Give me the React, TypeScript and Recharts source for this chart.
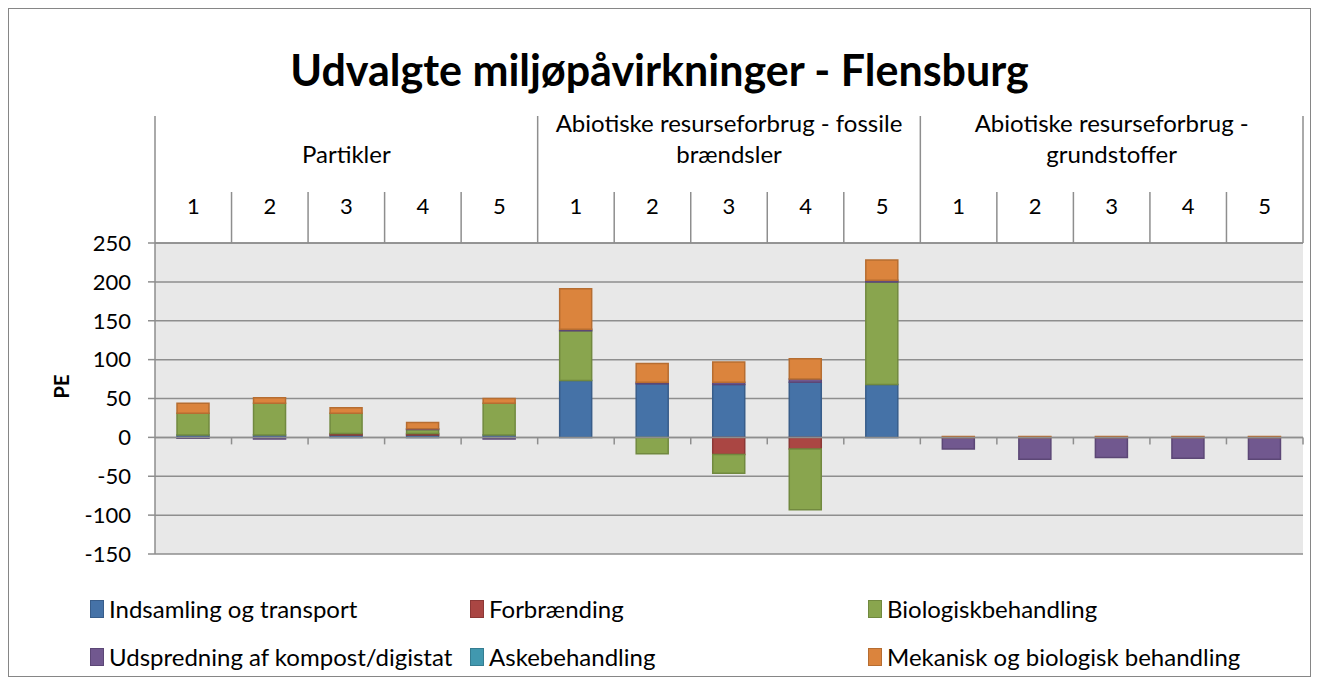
import React from 'react'
import { BarChart, Bar, XAxis, YAxis, CartesianGrid, ReferenceLine, Legend } from 'recharts'

// categories: 3 impact groups x 5 scenarios
const groupLines = [
  ['Partikler'],
  ['Abiotiske resurseforbrug - fossile', 'brændsler'],
  ['Abiotiske resurseforbrug -', 'grundstoffer'],
]
const scenarios = ['1', '2', '3', '4', '5']
const yTicks = [-150, -100, -50, 0, 50, 100, 150, 200, 250]

// PE values per process step (15 bars)
const indsamling = [3, 3, 3, 3, 3, 73, 69, 68, 71, 68, 0, 0, 0, 0, 0]
const forbraending = [0, 0, 2, 2, 0, 0, 0, -22, -15, 0, 0, 0, 0, 0, 0]
const biologisk = [28, 41, 26, 5, 41, 64, -21, -24, -78, 132, 0, 0, 0, 0, 0]
const udspredning = [-1, -2, 0, 1, -2, 2, 2, 3, 4, 2, -15, -28, -26, -27, -28]
const aske = [0, 0, 0, 0, 0, 0, 0, 0, 0, 0, 0, 0, 0, 0, 0]
const mekanisk = [13, 7, 7, 8, 6, 52, 24, 26, 26, 26, 1, 1, 1, 1, 1]

const series = [
  { key: 'ind', name: 'Indsamling og transport', values: indsamling, fill: '#4572A7', stroke: '#385d8a' },
  { key: 'forb', name: 'Forbrænding', values: forbraending, fill: '#AA4643', stroke: '#8c3836' },
  { key: 'bio', name: 'Biologiskbehandling', values: biologisk, fill: '#89A54E', stroke: '#71893f' },
  { key: 'udsp', name: 'Udspredning af kompost/digistat', values: udspredning, fill: '#71588F', stroke: '#5c4776' },
  { key: 'aske', name: 'Askebehandling', values: aske, fill: '#4198AF', stroke: '#357d91' },
  { key: 'mek', name: 'Mekanisk og biologisk behandling', values: mekanisk, fill: '#DB843D', stroke: '#b66d31' },
]

const W = 1303
const H = 669
const margin = { top: 100, right: 8, bottom: 123, left: 47 }
const Y_AXIS_W = 100
const X_AXIS_H = 135
const PLOT_W = W - margin.left - Y_AXIS_W - margin.right
const N = groupLines.length * scenarios.length
const GRID = '#8e8e8e'

const data = groupLines.flatMap((g, gi) =>
  scenarios.map((s, si) => {
    const i = gi * scenarios.length + si
    const row: Record<string, any> = { id: `${gi}-${s}`, label: s }
    series.forEach((se) => (row[se.key] = se.values[i]))
    return row
  })
)

const headerTop = margin.top
const headerBottom = margin.top + X_AXIS_H

function HeaderTick(props: any) {
  const { x, index } = props
  const band = PLOT_W / N
  const pos = index % scenarios.length
  const g = Math.floor(index / scenarios.length)
  const lines = groupLines[g]
  return (
    <g>
      <text x={x} y={headerBottom - 35} textAnchor="middle" dominantBaseline="middle" fontSize={22} fill="#000">
        {data[index].label}
      </text>
      <line
        x1={x + band / 2}
        x2={x + band / 2}
        y1={pos === scenarios.length - 1 ? headerTop + 8 : headerBottom - 51}
        y2={headerBottom}
        stroke={GRID}
        strokeWidth={1.5}
      />
      {index === 0 && (
        <line x1={x - band / 2} x2={x - band / 2} y1={headerTop + 8} y2={headerBottom} stroke={GRID} strokeWidth={1.5} />
      )}
      {pos === 2 &&
        lines.map((t, li) => (
          <text
            key={li}
            x={x}
            y={lines.length === 1 ? headerTop + 49 : headerTop + 18 + li * 31}
            textAnchor="middle"
            dominantBaseline="middle"
            fontSize={24}
            fill="#000"
          >
            {t}
          </text>
        ))}
    </g>
  )
}

function ZeroAxis(props: any) {
  const { x1, x2, y1 } = props
  const band = (x2 - x1) / N
  return (
    <g>
      <line x1={x1} x2={x2} y1={y1} y2={y1} stroke={GRID} strokeWidth={1.5} />
      {Array.from({ length: N }, (_, i) => (
        <line key={i} x1={x1 + (i + 1) * band} x2={x1 + (i + 1) * band} y1={y1} y2={y1 + 7} stroke={GRID} strokeWidth={1.5} />
      ))}
    </g>
  )
}

function LegendBox() {
  const cols = [82, 462, 860]
  return (
    <div style={{ position: 'relative', width: W, height: 80 }}>
      {series.map((s, i) => (
        <div
          key={s.key}
          style={{
            position: 'absolute',
            left: cols[i % 3],
            top: Math.floor(i / 3) * 48,
            display: 'flex',
            alignItems: 'center',
            fontSize: 24,
            color: '#000',
            whiteSpace: 'nowrap',
          }}
        >
          <span
            style={{
              display: 'inline-block',
              width: 12,
              height: 16,
              background: s.fill,
              border: `1px solid ${s.stroke}`,
              marginRight: 5,
            }}
          />
          {s.name}
        </div>
      ))}
    </div>
  )
}

export default function App() {
  return (
    <div style={{ position: 'relative', width: W, height: H, fontFamily: 'Lato, "Noto Sans", sans-serif' }}>
      <div
        style={{
          position: 'absolute',
          left: 0,
          top: 34,
          width: W,
          textAlign: 'center',
          fontSize: 43,
          fontWeight: 700,
          color: '#000',
          lineHeight: '56px',
        }}
      >
        Udvalgte miljøpåvirkninger - Flensburg
      </div>
      <BarChart width={W} height={H} data={data} margin={margin} stackOffset="sign" barSize={32}>
        <CartesianGrid vertical={false} fill="#e8e8e8" stroke={GRID} strokeWidth={1.5} />
        <XAxis
          dataKey="id"
          orientation="top"
          height={X_AXIS_H}
          interval={0}
          tickLine={false}
          axisLine={{ stroke: GRID, strokeWidth: 1.5 }}
          tick={<HeaderTick />}
        />
        <YAxis
          domain={[-150, 250]}
          ticks={yTicks}
          width={Y_AXIS_W}
          interval={0}
          tickSize={7}
          tickMargin={17}
          axisLine={{ stroke: GRID, strokeWidth: 1.5 }}
          tickLine={{ stroke: GRID, strokeWidth: 1.5 }}
          tick={{ fill: '#000', fontSize: 22 }}
          label={{ value: 'PE', angle: -90, position: 'insideLeft', offset: 7, fill: '#000', fontSize: 20, fontWeight: 700 }}
        />
        <ReferenceLine y={0} shape={<ZeroAxis />} />
        {series.map((s) => (
          <Bar
            key={s.key}
            dataKey={s.key}
            name={s.name}
            stackId="a"
            fill={s.fill}
            stroke={s.stroke}
            strokeWidth={1.5}
            isAnimationActive={false}
          />
        ))}
        <Legend
          layout="horizontal"
          verticalAlign="middle"
          align="center"
          wrapperStyle={{ top: 586, left: 0, width: W }}
          content={() => <LegendBox />}
        />
      </BarChart>
      <div
        style={{
          position: 'absolute',
          left: 0,
          top: 0,
          width: W,
          height: H,
          boxSizing: 'border-box',
          border: '1px solid #868686',
          pointerEvents: 'none',
        }}
      />
    </div>
  )
}
